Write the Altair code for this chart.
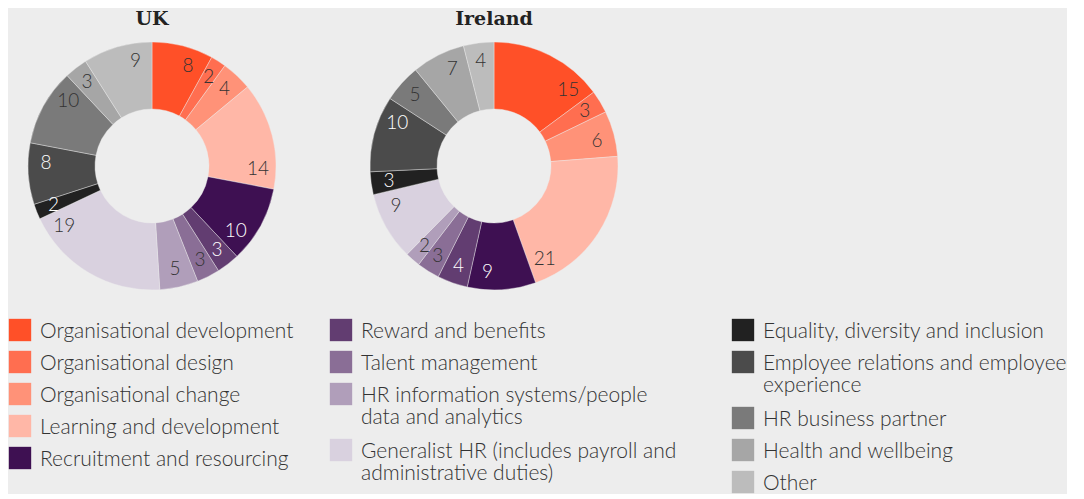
import json
import altair as alt
import pandas as pd

# ---- data ----
categories = [
    "Organisational development",
    "Organisational design",
    "Organisational change",
    "Learning and development",
    "Recruitment and resourcing",
    "Reward and benefits",
    "Talent management",
    "HR information systems/people data and analytics",
    "Generalist HR (includes payroll and administrative duties)",
    "Equality, diversity and inclusion",
    "Employee relations and employee experience",
    "HR business partner",
    "Health and wellbeing",
    "Other",
]
legend_labels = [
    "Organisational development",
    "Organisational design",
    "Organisational change",
    "Learning and development",
    "Recruitment and resourcing",
    "Reward and benefits",
    "Talent management",
    "HR information systems/people\ndata and analytics",
    "Generalist HR (includes payroll and\nadministrative duties)",
    "Equality, diversity and inclusion",
    "Employee relations and employee\nexperience",
    "HR business partner",
    "Health and wellbeing",
    "Other",
]
uk_values = [8, 2, 4, 14, 10, 3, 3, 5, 19, 2, 8, 10, 3, 9]
ireland_values = [15, 3, 6, 21, 9, 4, 3, 2, 9, 3, 10, 5, 7, 4]

# ---- styles ----
colors = [
    "#FF5028", "#FF6E50", "#FF9278", "#FFB7A7", "#3E1052",
    "#623D71", "#8A6E96", "#B09EBA", "#D9D1DF",
    "#212121", "#4B4B4B", "#7A7A7A", "#A6A6A6", "#BCBCBC",
]
dark_slices = [
    "Recruitment and resourcing", "Reward and benefits",
    "Equality, diversity and inclusion", "Employee relations and employee experience",
]
legend_columns = [5, 4, 5]
BG = "#EDEDED"
TEXT = "#333333"
FONT = "Lato"
TITLE_FONT = "DejaVu Serif"

color_scale = alt.Scale(domain=categories, range=colors)


def donut(title, values):
    df = pd.DataFrame({"category": categories, "value": values,
                       "order": list(range(len(categories)))})
    total = sum(values)
    theta_scale = alt.Scale(domain=[0, total], nice=False, zero=False)
    base = (
        alt.Chart(df)
        .transform_window(end="sum(value)", sort=[alt.SortField("order")], frame=[None, 0])
        .transform_joinaggregate(total="sum(value)")
        .transform_calculate(
            start="datum.end - datum.value",
            label_pos="datum.end - min(0.025 * datum.total, datum.value / 2)",
        )
    )
    arcs = base.mark_arc(outerRadius=124, innerRadius=57, stroke=BG, strokeWidth=0.4).encode(
        theta=alt.Theta("start:Q", scale=theta_scale),
        theta2="end:Q",
        color=alt.Color("category:N", scale=color_scale, legend=None),
    )
    labels = base.mark_text(radius=106, fontSize=19, font=FONT, fontWeight=300).encode(
        theta=alt.Theta("label_pos:Q", scale=theta_scale),
        text="value:Q",
        color=alt.condition(
            f"indexof({json.dumps(dark_slices)}, datum.category) >= 0",
            alt.value("white"), alt.value(TEXT),
        ),
    )
    return alt.layer(arcs, labels).properties(
        width=288, height=250,
        title=alt.TitleParams(title, fontSize=19, font=TITLE_FONT, fontWeight="bold",
                              color="#222222", anchor="middle", offset=12),
    )


# legend table: column index and vertical slot derived from the label line counts
rows = []
i = 0
for c, n in enumerate(legend_columns):
    slot = 0.0
    for _ in range(n):
        lab = legend_labels[i]
        rows.append({"category": categories[i], "label": lab, "col": c, "slot": slot})
        slot += 1 + 0.75 * lab.count("\n")
        i += 1
leg_df = pd.DataFrame(rows)

lx = alt.X("col:Q", scale=alt.Scale(domain=[0, 1, 2], range=[12, 333, 735]), axis=None)
ly = alt.Y("slot:Q", scale=alt.Scale(domain=[0, 4], range=[21, 149], nice=False, zero=False), axis=None)
leg_sq = alt.Chart(leg_df).mark_square(size=500, opacity=1).encode(
    x=lx, y=ly, color=alt.Color("category:N", scale=color_scale, legend=None)
)
leg_tx = alt.Chart(leg_df).mark_text(
    align="left", baseline="top", dx=20, dy=-9, fontSize=21, font=FONT, fontWeight=300,
    lineBreak="\n", lineHeight=22, color=TEXT,
).encode(x=lx, y=ly, text="label:N")
legend = alt.layer(leg_sq, leg_tx).properties(width=1050, height=166)

top = alt.hconcat(donut("UK", uk_values), donut("Ireland", ireland_values), spacing=54)
chart = (
    alt.vconcat(top, legend, spacing=18)
    .configure(background=BG, padding={"top": 2, "left": 0, "right": 0, "bottom": 0})
    .configure_view(stroke=None)
)
chart.save("out.html", embed_options={"renderer": "svg", "actions": False})
